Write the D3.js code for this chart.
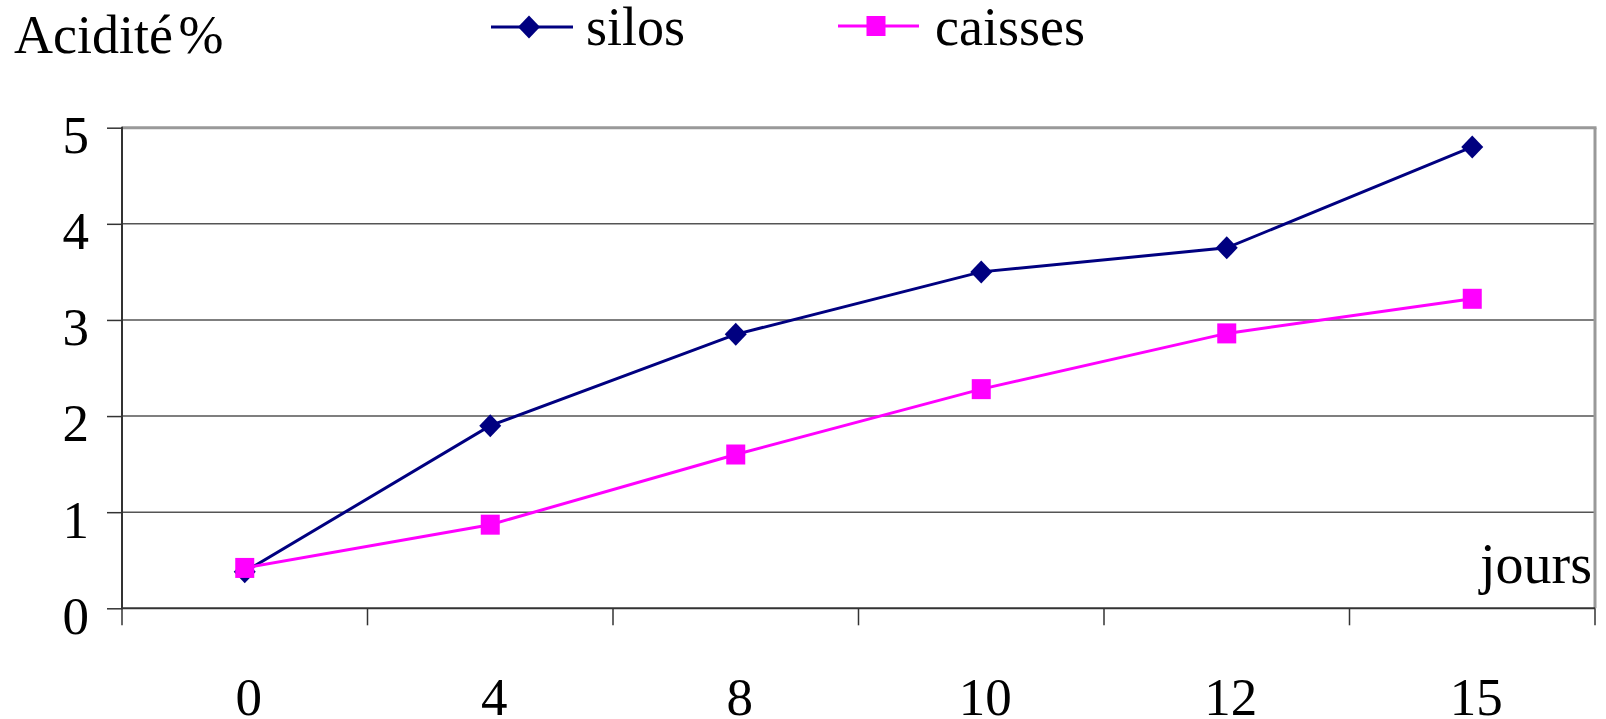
<!DOCTYPE html>
<html><head><meta charset="utf-8">
<script src="https://cdn.jsdelivr.net/npm/d3@7"></script>
<style>
html,body{margin:0;padding:0;background:#fff;}
text{font-family:"Liberation Serif","Times New Roman",serif;fill:#000;}
</style></head>
<body><svg id="c" width="1606" height="719"></svg>
<script>
const categories = ["0","4","8","10","12","15"];
const silos = [0.38, 1.9, 2.85, 3.5, 3.75, 4.8];
const caisses = [0.42, 0.87, 1.6, 2.28, 2.86, 3.22];
const yTicks = [0,1,2,3,4,5];
const seriesNames = ["silos","caisses"];

const svg = d3.select("#c");
const L = 122, R = 1595, T = 127.7, B = 608.3;
const x = d3.scaleBand().domain(categories).range([L, R]).padding(0);
const y = d3.scaleLinear().domain([0,5]).range([B, T]);
const cx = d => x(d) + x.bandwidth()/2;

// gridlines
svg.append("g").selectAll("line").data(yTicks.filter(v => v>0 && v<5)).join("line")
  .attr("x1", L).attr("x2", R).attr("y1", d=>y(d)).attr("y2", d=>y(d))
  .attr("stroke", "#555").attr("stroke-width", 1.5);
// top & right border
svg.append("line").attr("x1", L).attr("x2", R+1.5).attr("y1", y(5)).attr("y2", y(5))
  .attr("stroke", "#999").attr("stroke-width", 3);
svg.append("line").attr("x1", R).attr("x2", R).attr("y1", y(5)).attr("y2", B)
  .attr("stroke", "#999").attr("stroke-width", 3);

// y axis
const ya = svg.append("g").attr("transform", `translate(${L},0)`)
  .call(d3.axisLeft(y).tickValues(yTicks).tickSize(15).tickPadding(18).tickFormat(d3.format("d")));
ya.select(".domain").remove();
ya.selectAll(".tick line").attr("stroke", "#333").attr("stroke-width", 1.5);
ya.selectAll("text").attr("font-size", 53).attr("font-family", "Liberation Serif").attr("dy", "0.47em").attr("fill","#000");
svg.append("line").attr("x1", L).attr("x2", L).attr("y1", T-1).attr("y2", B+1).attr("stroke", "#333").attr("stroke-width", 2);

// x axis
const bounds = categories.map(c => x(c)).concat([R]);
svg.append("g").selectAll("line").data(bounds).join("line")
  .attr("x1", d=>d).attr("x2", d=>d).attr("y1", B).attr("y2", B+17)
  .attr("stroke", "#333").attr("stroke-width", 1.5);
svg.append("line").attr("x1", L).attr("x2", R).attr("y1", B).attr("y2", B).attr("stroke", "#333").attr("stroke-width", 2);
svg.append("g").selectAll("text").data(categories).join("text")
  .attr("x", d => cx(d) + 4).attr("y", 715).attr("text-anchor", "middle")
  .attr("font-size", 53).text(d => d);

// lines
const line = d3.line().x((d,i) => cx(categories[i])).y(d => y(d));
svg.append("path").datum(silos).attr("d", line).attr("fill","none").attr("stroke","#000080").attr("stroke-width",3);
const diamond = (px, py) => `M${px},${py-11.5}L${px+11},${py}L${px},${py+11.5}L${px-11},${py}Z`;
svg.append("g").selectAll("path").data(silos).join("path")
  .attr("d", (d,i) => diamond(cx(categories[i]), y(d))).attr("fill","#000080");
svg.append("path").datum(caisses).attr("d", line).attr("fill","none").attr("stroke","#FF00FF").attr("stroke-width",3);
svg.append("g").selectAll("rect").data(caisses).join("rect")
  .attr("x", (d,i) => cx(categories[i]) - 9.5).attr("y", d => y(d) - 10)
  .attr("width", 19).attr("height", 20).attr("fill","#FF00FF");

// titles
svg.append("text").attr("x", 14).attr("y", 53).attr("font-size", 54).attr("word-spacing", "-8px").text("Acidité %");
svg.append("text").attr("x", 1592).attr("y", 583).attr("font-size", 56).attr("text-anchor","end").text("jours");

// legend
const lg = svg.append("g");
lg.append("line").attr("x1", 491).attr("x2", 573).attr("y1", 27).attr("y2", 27).attr("stroke","#000080").attr("stroke-width",3);
lg.append("path").attr("d", diamond(529, 27)).attr("fill","#000080");
lg.append("text").attr("x", 586).attr("y", 45).attr("font-size", 54).text(seriesNames[0]);
lg.append("line").attr("x1", 838).attr("x2", 919).attr("y1", 26).attr("y2", 26).attr("stroke","#FF00FF").attr("stroke-width",3);
lg.append("rect").attr("x", 866.5).attr("y", 16).attr("width", 19).attr("height", 20).attr("fill","#FF00FF");
lg.append("text").attr("x", 935).attr("y", 45).attr("font-size", 54).text(seriesNames[1]);
</script></body></html>
